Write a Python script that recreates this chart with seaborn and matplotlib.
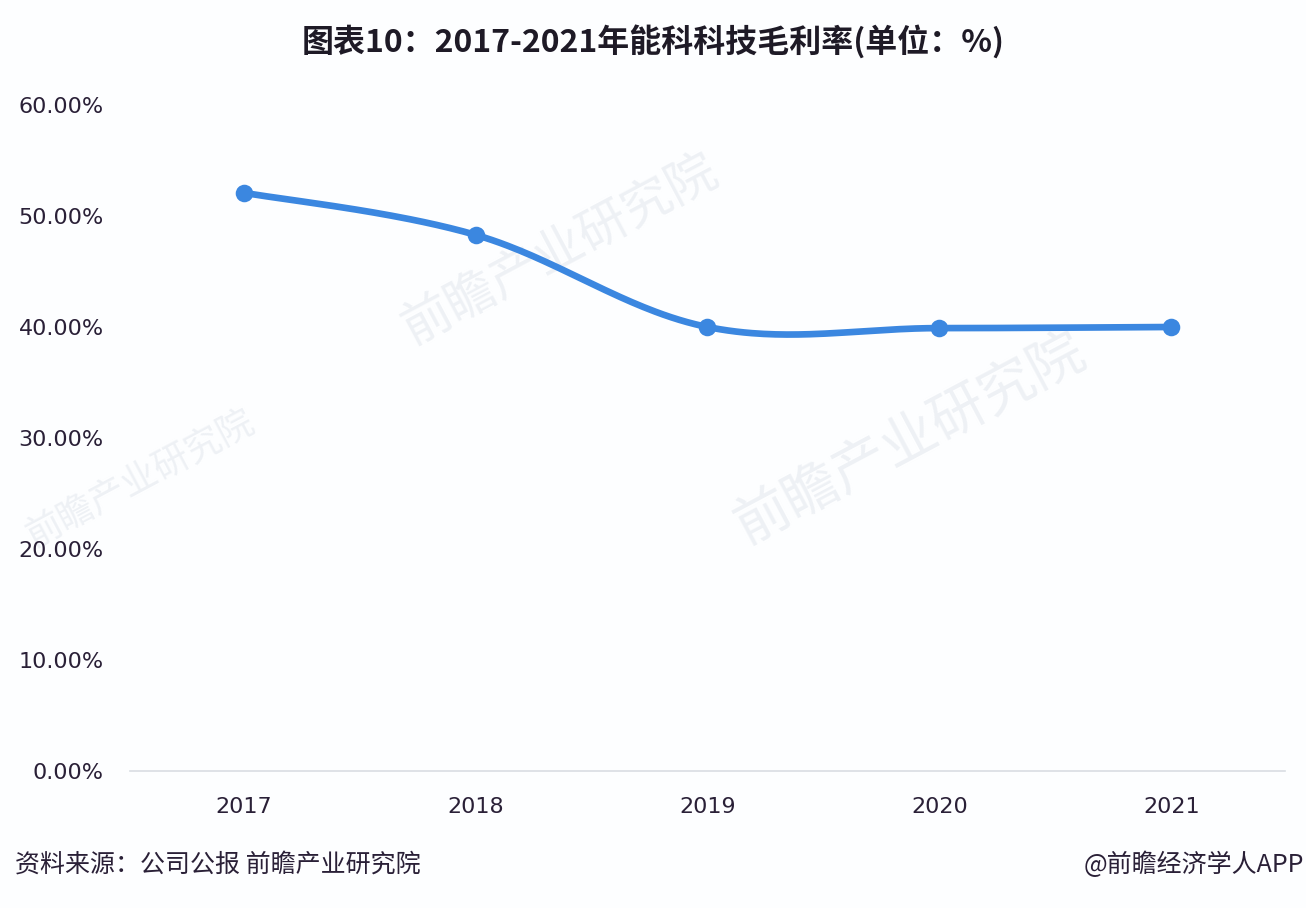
import numpy as np
import pandas as pd
import matplotlib
matplotlib.use("Agg")
import matplotlib.pyplot as plt
import seaborn as sns

years = ["2017", "2018", "2019", "2020", "2021"]
margin = [52.1, 48.3, 40.0, 39.9, 40.0]
yticks = [0, 10, 20, 30, 40, 50, 60]
ytick_labels = ["0.00%", "10.00%", "20.00%", "30.00%", "40.00%", "50.00%", "60.00%"]

sns.set_theme(style="white")
plt.rcParams['font.family'] = ['Noto Sans CJK SC', 'DejaVu Sans']

text_color = "#2a2037"
line_color = "#3b87e0"

fig = plt.figure(figsize=(13.06, 9.08), dpi=100)
fig.patch.set_facecolor("#fdfeff")
ax = fig.add_axes([130/1306, 1-771/908, (1285-130)/1306, (771-105)/908])
ax.set_facecolor("none")

# faint watermarks (behind everything)
for (wx, wy, fs) in [(560/1306, 1-250/908, 36), (910/1306, 1-440/908, 40), (140/1306, 1-480/908, 26)]:
    fig.text(wx, wy, "前瞻产业研究院", rotation=28, fontsize=fs, color="#eef1f5",
             ha="center", va="center", zorder=-10)

# smooth curve (cardinal spline) through the data points
x = np.arange(len(years), dtype=float)
y = np.array(margin, dtype=float)
xs, ys = [], []
t = np.linspace(0, 1, 60)
for i in range(len(x) - 1):
    p0 = np.array([x[max(i-1, 0)], y[max(i-1, 0)]])
    p1 = np.array([x[i], y[i]])
    p2 = np.array([x[i+1], y[i+1]])
    p3 = np.array([x[min(i+2, len(x)-1)], y[min(i+2, len(x)-1)]])
    k = 0.35
    c1 = p1 + (p2 - p0) * k / 2
    c2 = p2 - (p3 - p1) * k / 2
    pts = ((1-t)**3)[:, None]*p1 + (3*(1-t)**2*t)[:, None]*c1 + (3*(1-t)*t**2)[:, None]*c2 + (t**3)[:, None]*p2
    xs.extend(pts[:, 0]); ys.extend(pts[:, 1])
curve = pd.DataFrame({"x": xs, "y": ys})
sns.lineplot(data=curve, x="x", y="y", ax=ax, color=line_color, linewidth=4.8, sort=False, solid_capstyle="round")
pts_df = pd.DataFrame({"x": x, "y": y})
sns.scatterplot(data=pts_df, x="x", y="y", ax=ax, color=line_color, s=160, edgecolor=line_color, linewidth=0, zorder=5)

ax.set_xlim(-0.49, 4.49)
ax.set_ylim(0, 60)
ax.set_xticks(x)
ax.set_xticklabels(years, family=['DejaVu Sans'])
ax.set_yticks(yticks)
ax.set_yticklabels(ytick_labels, family=['DejaVu Sans'])
ax.set_xlabel("")
ax.set_ylabel("")
for s in ["top", "right", "left"]:
    ax.spines[s].set_visible(False)
ax.spines["bottom"].set_color("#d9dde3")
ax.spines["bottom"].set_linewidth(1.2)
ax.tick_params(axis="y", length=0, pad=19, labelsize=16, labelcolor=text_color)
ax.tick_params(axis="x", length=0, pad=19, labelsize=16, labelcolor=text_color)
ax.grid(False)

fig.text(0.5, 1-42/908, "图表10：2017-2021年能科科技毛利率(单位：%)", ha="center", va="center",
         fontsize=23, fontweight="bold", color="#1e1a26")
fig.text(15/1306, 1-865/908, "资料来源：公司公报 前瞻产业研究院", ha="left", va="center",
         fontsize=18, color=text_color)
fig.text(1304/1306, 1-865/908, "@前瞻经济学人APP", ha="right", va="center",
         fontsize=18, color=text_color)

fig.savefig("out.png", dpi=100, facecolor=fig.get_facecolor())
